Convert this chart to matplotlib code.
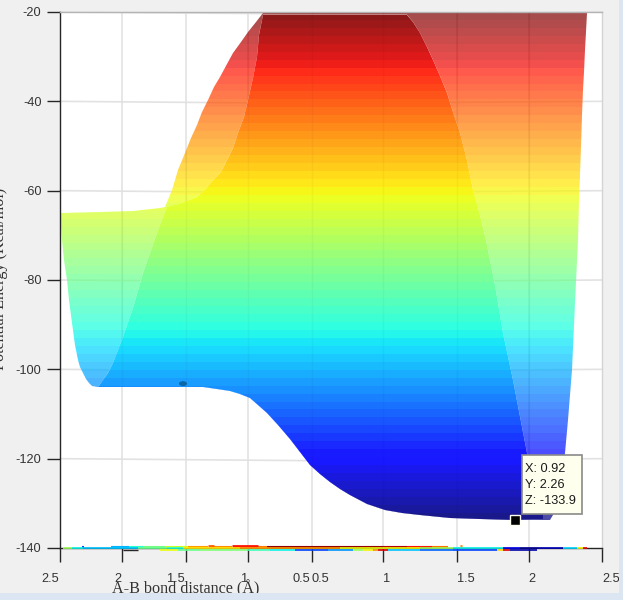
import numpy as np
import matplotlib
matplotlib.use('Agg')
import matplotlib.pyplot as plt
from matplotlib.patches import Polygon, Rectangle, Ellipse
from matplotlib.colors import Normalize

# positions on the screen axis (projected 3D view), energy in kcal/mol
x_tick_pos = [60, 122, 185.5, 248, 311.5, 383, 456.5, 529, 601.5]
x_label_pos = [50, 118, 176, 245, 301, 320, 387, 466, 532, 611]
x_labels = ['2.5', '2', '1.5', '1', '0.5', '0.5', '1', '1.5', '2', '2.5']
y_ticks = [-20, -40, -60, -80, -100, -120, -140]
y_labels = ['-20', '-40', '-60', '-80', '-100', '-120', '-140']

lower_x = [550, 515, 480, 450, 420, 402, 385, 367, 350, 340, 330, 320, 310, 300, 290, 278, 267, 258, 250,
           240, 230, 217, 203, 150, 98]
lower_z = [-133.7, -133.7, -133.5, -133.3, -132.6, -132.2, -131.5, -130.2, -128.1, -126.8, -125.2, -123.4,
           -121.4, -118.5, -115.6, -112.5, -109.8, -108.0, -106.4, -105.5, -104.9, -104.4, -104.0, -103.9, -103.9]

# outer silhouette of the surface, clockwise from the left plateau
outer_top_x = [60, 100, 133, 160, 165, 172, 178, 185, 191, 197, 202, 208, 214, 220, 227, 233, 241, 248, 256, 263,
               263, 407, 587, 586, 585, 584, 583, 582, 581, 580, 579, 578, 575, 572, 568, 565, 561, 556]
outer_top_z = [-65.0, -64.8, -64.6, -63.9, -63.7, -59.9, -55.4, -51.6, -48.2, -45.3, -42.4, -39.7, -36.8, -34.6,
               -31.6, -29.2, -26.7, -24.5, -22.2, -20.2, -19.6, -19.6, -20.2, -24.5, -28.5, -33.4, -37.5, -43.1,
               -50.2, -56.5, -62.1, -71.0, -85.2, -100.2, -111.4, -118.8, -127.0, -131.5]
outer_left_x = [92, 89, 86, 83, 80, 78, 75, 72, 69, 67, 64, 62, 60.5]
outer_left_z = [-103.7, -103.1, -102.2, -100.8, -99.5, -97.9, -94.6, -89.6, -84.5, -80.0, -75.5, -71.0, -67.9]

# the more solid front part of the surface
front_top_x = [167, 182, 197, 205, 213, 221, 227, 233, 238, 244, 248, 253, 257, 259, 263, 407, 413, 420, 427, 433,
               440, 447, 453, 460, 467, 473, 480, 486, 495, 503, 513, 527, 543]
front_top_z = [-63.7, -62.8, -61.4, -59.9, -57.6, -55.8, -53.1, -50.4, -47.1, -43.5, -39.7, -34.8, -30.1, -25.1,
               -20.6, -20.6, -22.2, -24.7, -27.8, -30.7, -34.3, -38.1, -42.4, -47.1, -53.1, -59.9, -65.4, -71.0,
               -81.1, -91.9, -102.4, -118.7, -132.2]
front_left_x = [103, 108, 113, 118, 123, 133, 143, 158]
front_left_z = [-102.4, -100.8, -98.6, -95.7, -92.8, -86.3, -78.4, -68.8]

# contour projected on the floor: (from, to, energy of the colour)
floor_top = [(82, 84, -112), (111, 129, -100), (129, 143, -88), (143, 165, -78), (165, 188, -66),
             (188, 208, -50), (214, 232, -48), (258, 267, -45), (267, 383, -22), (383, 407, -27),
             (407, 432, -34), (432, 448, -44)]
floor_top2 = [(208, 214, -42), (232, 258, -33), (460, 462, -48)]
floor_mid = [(63, 72, -72), (72, 83, -92), (83, 138, -98), (138, 167, -80), (167, 183, -90),
             (183, 240, -58), (240, 340, -50), (340, 420, -62), (420, 453, -72), (453, 503, -92),
             (503, 520, -122), (520, 538, -132)]
floor_low = [(160, 178, -62), (178, 200, -80), (200, 247, -76), (247, 270, -85), (270, 295, -92),
             (295, 328, -112), (328, 353, -102), (353, 363, -72), (363, 373, -60), (373, 378, -48),
             (378, 388, -30), (388, 420, -98), (420, 453, -108), (453, 497, -112), (497, 503, -56),
             (503, 510, -30), (510, 537, -130)]
floor_axis = [(538, 563, -128), (563, 577, -96), (577, 583, -60), (583, 587, -32)]

marker_x, marker_z = 514.5, -133.7
well_x, well_z = 183, -103.2
tip_text = 'X: 0.92\nY: 2.26\nZ: -133.9'

plt.rcParams['font.family'] = ['Liberation Sans', 'DejaVu Sans']

fig = plt.figure(figsize=(6.23, 6.0), dpi=100, facecolor='#f0f0f0')
ax = fig.add_axes([60 / 623, 52 / 600, 542 / 623, 536 / 600])
ax.set_xlim(60, 602)
ax.set_ylim(-140, -20)

# 64 colour jet, as the surface has visible bands
cmap = plt.get_cmap('jet', 64)
norm = Normalize(-133.9, -20)
z_edges = np.linspace(-133.9, -20, 65)
z_edges = np.concatenate([[-135], z_edges, [-19]])
z_mid = (z_edges[:-1] + z_edges[1:]) / 2
x_edges = np.array([60, 602])


def surface(xs, zs, alpha, zorder):
    poly = Polygon(np.column_stack([xs, zs]), closed=True, fc='none', ec='none', transform=ax.transData)
    ax.add_patch(poly)
    m = ax.pcolormesh(x_edges, z_edges, z_mid[:, None], cmap=cmap, norm=norm, alpha=alpha, zorder=zorder)
    m.set_clip_path(poly)
    return poly


# grid is slightly bent in the 3D view
for z in y_ticks[:-1]:
    ax.plot([60, 311, 602], [z, z - 0.45, z], color='#e2e2e2', lw=1.2, zorder=1, clip_on=False)
for x in x_tick_pos[1:-1]:
    ax.plot([x, x], [-140, -20], color='#e0e0e0', lw=1.1, zorder=1)

outer_x = outer_top_x + lower_x + outer_left_x
outer_z = outer_top_z + lower_z + outer_left_z
front_x = front_top_x + [543] + lower_x[1:] + front_left_x
front_z = front_top_z + [-133.5] + lower_z[1:] + front_left_z

outer = surface(outer_x, outer_z, 0.7, 2)
ax.add_patch(Polygon(np.column_stack([front_x, front_z]), closed=True, fc='white', ec='none', zorder=2.5))
surface(front_x, front_z, 0.9, 3)

# grid shines faintly through the surface
for x in x_tick_pos[1:-1]:
    l, = ax.plot([x, x], [-140, -20], color='black', lw=1.0, alpha=0.03, zorder=4)
    l.set_clip_path(outer)

ax.add_patch(Ellipse((well_x, well_z), 8, 1.1, fc='#0b66a8', ec='none', zorder=5))

for rows, z, lw in [(floor_top, -139.7, 1.5), (floor_top2, -139.5, 2.0), (floor_mid, -140.0, 1.2),
                    (floor_low, -140.35, 1.2), (floor_axis, -140.0, 1.2)]:
    for a, b, v in rows:
        ax.plot([a, b], [z, z], color=cmap(norm(v)), lw=lw, solid_capstyle='butt', zorder=6, clip_on=False)
ax.plot([123, 138], [-140.35, -140.35], color='#262626', lw=1, solid_capstyle='butt', zorder=6, clip_on=False)

ax.plot(marker_x, marker_z, 's', ms=7.5, mfc='black', mec='#fffff0', mew=1, zorder=8, clip_on=False)

ax.add_patch(Rectangle((522, -132.4), 60, 13.2, fc='#ffffee', ec='#8a8a8a', lw=1.2, zorder=8.5))
ax.text(525, -125.8, tip_text, fontsize=9.2, color='#1a1a1a', va='center', ha='left', linespacing=1.45, zorder=9)

ax.grid(False)
ax.spines['left'].set_color('#262626')
ax.spines['bottom'].set_color('#262626')
ax.spines['top'].set_color('#b4b4b4')
ax.spines['right'].set_color('#d4d4d4')
for s in ax.spines.values():
    s.set_linewidth(1.0)

ax.set_yticks(y_ticks)
ax.set_yticklabels(y_labels, fontsize=9.2, color='#333333')
ax.tick_params(axis='y', length=9.4, width=1, color='#262626', pad=4)
ax.set_xticks(x_tick_pos)
ax.set_xticklabels([])
ax.tick_params(axis='x', length=10, width=1, color='#262626')

for x, s in zip(x_label_pos, x_labels):
    ax.text(x, -147.0, s, fontsize=9.2, color='#333333', ha='center', va='center', clip_on=False)

ax.text(186, -149.1, 'A-B bond distance (Å)', family='Liberation Serif', fontsize=11.6, color='#333333',
        ha='center', va='center', clip_on=False)
fig.text(8 / 623, 1 - 279 / 600, 'Potential Energy (Kcal/mol)', family='Liberation Serif', fontsize=11.6,
         color='#333333', rotation=90, ha='right', va='center')

# window edge strips cut the texts like in the screenshot
fig.add_artist(Rectangle((619 / 623, 0), 4 / 623, 1, transform=fig.transFigure, fc='#dce6f2', ec='none', zorder=20))
fig.add_artist(Rectangle((0, 0), 1, 7.5 / 600, transform=fig.transFigure, fc='#dce6f2', ec='none', zorder=20))

fig.savefig('out.png', dpi=100, facecolor=fig.get_facecolor())
